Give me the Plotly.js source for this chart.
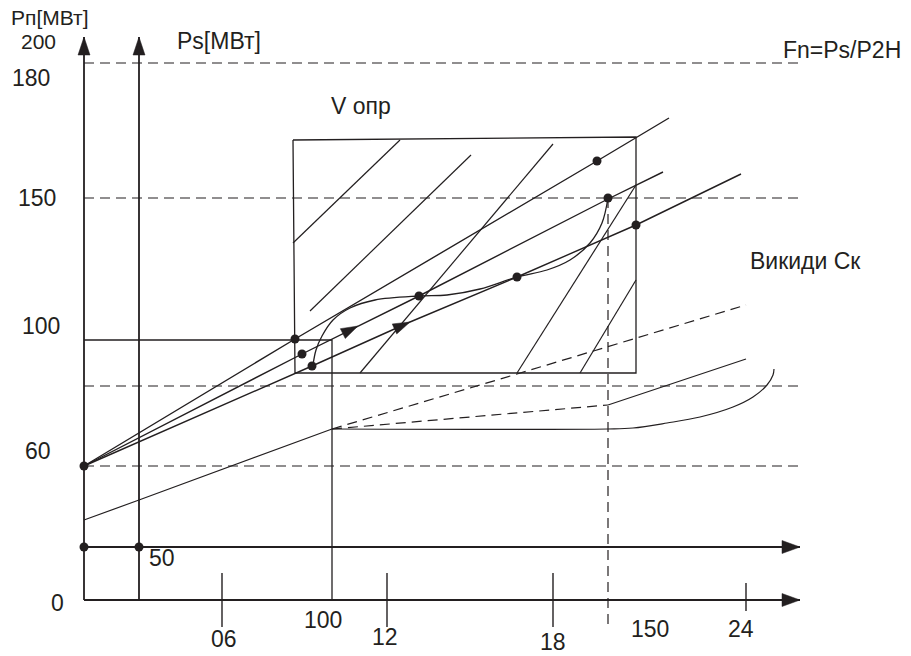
<!DOCTYPE html>
<html><head><meta charset="utf-8">
<script src="https://cdn.plot.ly/plotly-3.0.1.min.js"></script>
<style>html,body{margin:0;padding:0;background:#fff}#chart{width:911px;height:656px}</style>
</head><body><div id="chart"></div>
<script>
// Diagram units: the drawing is a schematic (x right, y down).
// Axes
const pnAxisX = [84, 84],   pnAxisY = [600, 37];
const psAxisX = [139, 139], psAxisY = [600, 37];
const timeAxisX = [84, 800], timeAxisY = [600, 600];
const powerAxisX = [84, 800], powerAxisY = [547, 547];
// Dashed reference levels (180, 150, lower levels)
const levelY = [63, 198, 386, 466];
const levelFromX = 84, levelToX = 800;
// Vertical dashed projection at 150
const projX = [608, 608], projY = [198, 627];
// Time axis ticks
const tickX = [222, 387, 553, 746];
const tickTopY = [573, 573, 573, 583];
const tickBottomY = [627, 627, 627, 611];
// Small rectangle (100 / 100)
const smallRectX = [84, 332, 332];
const smallRectY = [340, 340, 600];
// Large "V опр" region
const bigRectX = [293, 636, 636, 295, 293];
const bigRectY = [140, 137, 373, 373, 140];
// Hatching inside region
const hatchX0 = [293, 310, 360, 517, 580];
const hatchY0 = [243, 311, 373, 373, 373];
const hatchX1 = [400, 471, 553, 636, 636];
const hatchY1 = [140, 155, 144, 185, 280];
// Three rays from the 60 point
const ray1X = [84, 295, 597, 669], ray1Y = [466, 339, 161, 118];
const ray2X = [84, 302, 419, 608, 663], ray2Y = [466, 354, 296, 199, 172];
const ray3X = [84, 312, 410, 517, 636, 741], ray3Y = [466, 366, 322, 277, 225, 174];
// S-shaped trajectory
const sCurveX = [313, 316, 322, 333, 350, 375, 419, 447, 480, 517, 547, 570, 590, 602, 608];
const sCurveY = [365, 350, 336, 320, 308, 300, 296, 295, 289, 277, 270, 260, 243, 223, 198];
// Emission lines ("Викиди Ск")
const baseLineX = [84, 139, 332], baseLineY = [520, 500, 429];
const dashUpX = [332, 517, 746], dashUpY = [429, 374, 305];
const dashLowX = [332, 608], dashLowY = [429, 405];
const solidUpX = [608, 746], solidUpY = [405, 359];
const flatCurveX = [332, 608, 633, 667, 700, 733, 753, 767, 773, 774];
const flatCurveY = [429, 429, 428, 423, 417, 407, 397, 385, 375, 369];
// Marked points
const dotX = [84, 84, 139, 295, 302, 312, 419, 517, 597, 608, 636];
const dotY = [466, 547, 547, 339, 354, 366, 296, 277, 161, 198, 225];
// Flow arrows on rays 2 and 3 (tip and a point behind it on the ray)
const flowTipX = [358, 410], flowTipY = [326, 322];
const flowBackX = [302, 312], flowBackY = [354, 366];
// Labels
const labelText = ['Pп[МВт]', '200', 'Ps[МВт]', '180', 'Fn=Ps/P2H', 'V опр', '150', 'Викиди Ск',
  '100', '60', '0', '50', '06', '100', '12', '18', '150', '24'];
const labelX = [49, 38, 219, 31, 842, 361, 37, 805, 41, 38, 57, 162, 224, 323, 385, 553, 650, 741];
const labelY = [17, 41, 41, 78, 50, 106, 198, 261, 326, 451, 603, 558, 639, 620, 637, 642, 629, 629];
const labelSize = [21, 21, 23, 23, 23, 23, 23, 23, 23, 23, 23, 23, 23, 23, 23, 23, 23, 23];

const INK = '#231f20';
const traces = [];
function line(x, y, w, dash, shape) {
  traces.push({type: 'scatter', mode: 'lines', x: x, y: y, hoverinfo: 'skip',
    line: {color: INK, width: w, dash: dash || 'solid', shape: shape || 'linear', smoothing: 1}});
}
function segs(x0, y0, x1, y1) {
  const xs = [], ys = [];
  for (let i = 0; i < x0.length; i++) { xs.push(x0[i], x1[i], null); ys.push(y0[i], y1[i], null); }
  return {x: xs, y: ys};
}
function head(tx, ty, bx, by, len, wid) {
  const dx = tx - bx, dy = ty - by, d = Math.hypot(dx, dy);
  const ux = dx / d, uy = dy / d, px = -uy, py = ux;
  const cx = tx - ux * len, cy = ty - uy * len;
  traces.push({type: 'scatter', mode: 'lines', fill: 'toself', fillcolor: INK, hoverinfo: 'skip',
    line: {color: INK, width: 0.5},
    x: [tx, cx + px * wid / 2, cx - px * wid / 2, tx],
    y: [ty, cy + py * wid / 2, cy - py * wid / 2, ty]});
}
const DASH = '10px,6px';
// axes
line(pnAxisX, pnAxisY, 1.8); line(psAxisX, psAxisY, 1.8);
line(timeAxisX, timeAxisY, 1.8); line(powerAxisX, powerAxisY, 1.8);
// dashed levels
const lv = segs(levelY.map(() => levelFromX), levelY, levelY.map(() => levelToX), levelY);
line(lv.x, lv.y, 1.2, DASH);
line(projX, projY, 1.2, DASH);
// ticks
const tk = segs(tickX, tickTopY, tickX, tickBottomY);
line(tk.x, tk.y, 1.4);
// rectangles and hatching
line(smallRectX, smallRectY, 1.3);
line(bigRectX, bigRectY, 1.3);
const ht = segs(hatchX0, hatchY0, hatchX1, hatchY1);
line(ht.x, ht.y, 1.2);
// rays
line(ray1X, ray1Y, 1.4); line(ray2X, ray2Y, 1.4); line(ray3X, ray3Y, 1.4);
line(sCurveX, sCurveY, 1.3, 'solid', 'spline');
// emission lines
line(baseLineX, baseLineY, 1.2);
line(dashUpX, dashUpY, 1.2, DASH);
line(dashLowX, dashLowY, 1.2, DASH);
line(solidUpX, solidUpY, 1.2);
line(flatCurveX, flatCurveY, 1.2, 'solid', 'spline');
// arrowheads
head(pnAxisX[1], pnAxisY[1], pnAxisX[0], pnAxisY[0], 18, 12);
head(psAxisX[1], psAxisY[1], psAxisX[0], psAxisY[0], 18, 12);
head(timeAxisX[1], timeAxisY[1], timeAxisX[0], timeAxisY[0], 18, 13);
head(powerAxisX[1], powerAxisY[1], powerAxisX[0], powerAxisY[0], 18, 13);
for (let i = 0; i < flowTipX.length; i++) head(flowTipX[i], flowTipY[i], flowBackX[i], flowBackY[i], 17, 11);
// dots
traces.push({type: 'scatter', mode: 'markers', x: dotX, y: dotY, hoverinfo: 'skip',
  marker: {color: INK, size: 9, line: {width: 0}}});

const annotations = labelText.map((t, i) => ({
  text: t, x: labelX[i], y: labelY[i], xref: 'x', yref: 'y', showarrow: false,
  xanchor: 'center', yanchor: 'middle',
  font: {family: 'Liberation Sans, Arial, sans-serif', size: labelSize[i], color: INK}
}));

Plotly.newPlot('chart', traces, {
  width: 911, height: 656, margin: {l: 0, r: 0, t: 0, b: 0},
  paper_bgcolor: '#fff', plot_bgcolor: '#fff', showlegend: false,
  xaxis: {range: [0, 911], visible: false, fixedrange: true},
  yaxis: {range: [656, 0], visible: false, fixedrange: true},
  annotations: annotations
}, {displayModeBar: false, staticPlot: true});
</script></body></html>
